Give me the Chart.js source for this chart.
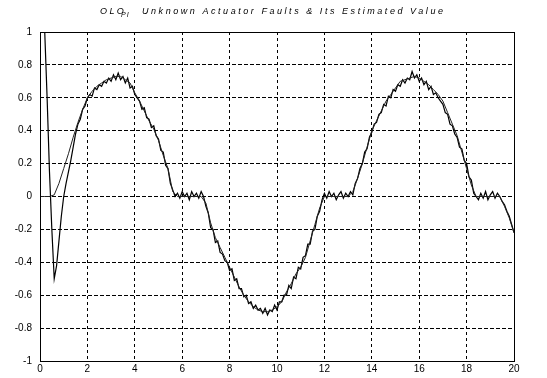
<!DOCTYPE html>
<html>
<head>
<meta charset="utf-8">
<script src="https://cdn.jsdelivr.net/npm/chart.js@4"></script>
<style>
  html, body { margin: 0; padding: 0; background: #fff; }
  #wrap { width: 547px; height: 378px; position: relative; }
</style>
</head>
<body>
<div id="wrap"><canvas id="faultChart"></canvas></div>
<script>
// actual fault, sampled every 0.2 s
const faultT = [
  0, 0.2, 0.4, 0.6, 0.8, 1, 1.2, 1.4, 1.6, 1.8,
  2, 2.2, 2.4, 2.6, 2.8, 3, 3.2, 3.4, 3.6, 3.8,
  4, 4.2, 4.4, 4.6, 4.8, 5, 5.2, 5.4, 5.6, 5.8,
  6, 6.2, 6.4, 6.6, 6.8, 7, 7.2, 7.4, 7.6, 7.8,
  8, 8.2, 8.4, 8.6, 8.8, 9, 9.2, 9.4, 9.6, 9.8,
  10, 10.2, 10.4, 10.6, 10.8, 11, 11.2, 11.4, 11.6, 11.8,
  12, 12.2, 12.4, 12.6, 12.8, 13, 13.2, 13.4, 13.6, 13.8,
  14, 14.2, 14.4, 14.6, 14.8, 15, 15.2, 15.4, 15.6, 15.8,
  16, 16.2, 16.4, 16.6, 16.8, 17, 17.2, 17.4, 17.6, 17.8,
  18, 18.2, 18.4, 18.6, 18.8, 19, 19.2, 19.4, 19.6, 19.8,
  20
];
const fault = [
  0, 0, 0, 0.01, 0.08, 0.17, 0.26, 0.36, 0.45, 0.53,
  0.6, 0.64, 0.67, 0.69, 0.71, 0.72, 0.73, 0.73, 0.71, 0.69,
  0.63, 0.58, 0.52, 0.46, 0.41, 0.34, 0.25, 0.17, 0.03, 0,
  0, 0, 0, 0, 0, -0.04, -0.16, -0.25, -0.31, -0.37,
  -0.43, -0.49, -0.55, -0.6, -0.64, -0.67, -0.69, -0.7, -0.7, -0.69,
  -0.67, -0.64, -0.58, -0.53, -0.47, -0.43, -0.37, -0.27, -0.17, -0.07,
  0, 0, 0, 0, 0, 0, 0.03, 0.11, 0.2, 0.3,
  0.4, 0.46, 0.52, 0.58, 0.62, 0.66, 0.7, 0.71, 0.72, 0.73,
  0.72, 0.7, 0.68, 0.65, 0.62, 0.58, 0.51, 0.44, 0.37, 0.27,
  0.17, 0.07, 0, 0, 0, 0, 0, 0, -0.06, -0.13,
  -0.22
];

// estimated fault, sampled every 0.1 s
const estT = [
  0, 0.1, 0.2, 0.3, 0.4, 0.5, 0.6, 0.7, 0.8, 0.9,
  1, 1.1, 1.2, 1.3, 1.4, 1.5, 1.6, 1.7, 1.8, 1.9,
  2, 2.1, 2.2, 2.3, 2.4, 2.5, 2.6, 2.7, 2.8, 2.9,
  3, 3.1, 3.2, 3.3, 3.4, 3.5, 3.6, 3.7, 3.8, 3.9,
  4, 4.1, 4.2, 4.3, 4.4, 4.5, 4.6, 4.7, 4.8, 4.9,
  5, 5.1, 5.2, 5.3, 5.4, 5.5, 5.6, 5.7, 5.8, 5.9,
  6, 6.1, 6.2, 6.3, 6.4, 6.5, 6.6, 6.7, 6.8, 6.9,
  7, 7.1, 7.2, 7.3, 7.4, 7.5, 7.6, 7.7, 7.8, 7.9,
  8, 8.1, 8.2, 8.3, 8.4, 8.5, 8.6, 8.7, 8.8, 8.9,
  9, 9.1, 9.2, 9.3, 9.4, 9.5, 9.6, 9.7, 9.8, 9.9,
  10, 10.1, 10.2, 10.3, 10.4, 10.5, 10.6, 10.7, 10.8, 10.9,
  11, 11.1, 11.2, 11.3, 11.4, 11.5, 11.6, 11.7, 11.8, 11.9,
  12, 12.1, 12.2, 12.3, 12.4, 12.5, 12.6, 12.7, 12.8, 12.9,
  13, 13.1, 13.2, 13.3, 13.4, 13.5, 13.6, 13.7, 13.8, 13.9,
  14, 14.1, 14.2, 14.3, 14.4, 14.5, 14.6, 14.7, 14.8, 14.9,
  15, 15.1, 15.2, 15.3, 15.4, 15.5, 15.6, 15.7, 15.8, 15.9,
  16, 16.1, 16.2, 16.3, 16.4, 16.5, 16.6, 16.7, 16.8, 16.9,
  17, 17.1, 17.2, 17.3, 17.4, 17.5, 17.6, 17.7, 17.8, 17.9,
  18, 18.1, 18.2, 18.3, 18.4, 18.5, 18.6, 18.7, 18.8, 18.9,
  19, 19.1, 19.2, 19.3, 19.4, 19.5, 19.6, 19.7, 19.8, 19.9,
  20
];
const estimate = [
  1, 1, 1, 0.6, 0.15, -0.2, -0.5, -0.42, -0.27, -0.12,
  0, 0.08, 0.15, 0.22, 0.3, 0.38, 0.44, 0.47, 0.53, 0.55,
  0.6, 0.62, 0.61, 0.66, 0.65, 0.68, 0.67, 0.7, 0.69, 0.72,
  0.7, 0.74, 0.71, 0.75, 0.71, 0.73, 0.69, 0.72, 0.66, 0.67,
  0.62, 0.6, 0.58, 0.53, 0.54, 0.48, 0.47, 0.42, 0.43, 0.37,
  0.35, 0.28, 0.27, 0.19, 0.17, 0.08, 0.04, 0, 0.02, -0.01,
  0.03, 0, 0.02, -0.02, 0.03, 0, 0.02, -0.01, 0.03, 0,
  -0.06, -0.1, -0.19, -0.2, -0.28, -0.27, -0.34, -0.35, -0.39, -0.4,
  -0.45, -0.44, -0.51, -0.5, -0.56, -0.56, -0.61, -0.6, -0.65, -0.64,
  -0.68, -0.66, -0.69, -0.68, -0.71, -0.68, -0.72, -0.69, -0.7, -0.66,
  -0.69, -0.64, -0.64, -0.6, -0.6, -0.54, -0.56, -0.49, -0.5, -0.43,
  -0.44, -0.37, -0.36, -0.29, -0.29, -0.21, -0.2, -0.12, -0.09, -0.02,
  0.02, -0.01, 0.03, 0, 0.02, -0.02, 0.01, 0.03, -0.01, 0.02,
  0, 0.03, 0.01, 0.08, 0.11, 0.17, 0.2, 0.27, 0.29, 0.36,
  0.39, 0.44, 0.45, 0.5, 0.51, 0.56, 0.55, 0.61, 0.6, 0.65,
  0.64, 0.68, 0.67, 0.71, 0.69, 0.72, 0.71, 0.76, 0.72, 0.74,
  0.7, 0.72, 0.68, 0.7, 0.65, 0.67, 0.62, 0.63, 0.6, 0.58,
  0.56, 0.51, 0.5, 0.44, 0.43, 0.38, 0.36, 0.3, 0.29, 0.22,
  0.2, 0.12, 0.1, 0.02, 0, -0.02, 0.02, -0.01, 0.03, -0.02,
  0.01, 0.03, -0.01, 0.02, 0, -0.03, -0.05, -0.09, -0.12, -0.17,
  -0.22
];

const xTicks = [0, 2, 4, 6, 8, 10, 12, 14, 16, 18, 20];
const yTicks = [-1, -0.8, -0.6, -0.4, -0.2, 0, 0.2, 0.4, 0.6, 0.8, 1];

const toPoints = (xs, ys) => xs.map((x, i) => ({ x: x, y: ys[i] }));

// title with the PI subscript, plus the solid frame around the plot
const framePlugin = {
  id: 'frame',
  afterDraw(chart) {
    const { ctx, chartArea: a } = chart;
    ctx.save();
    ctx.strokeStyle = '#000';
    ctx.lineWidth = 1;
    ctx.setLineDash([]);
    ctx.strokeRect(Math.round(a.left) + 0.5, Math.round(a.top) + 0.5,
      Math.round(a.right - a.left), Math.round(a.bottom - a.top));

    ctx.fillStyle = '#000';
    ctx.textAlign = 'left';
    ctx.textBaseline = 'alphabetic';
    ctx.letterSpacing = '2.4px';
    ctx.font = 'italic 9px Arial, "Liberation Sans", sans-serif';
    ctx.fillText('OLO', 100, 14);
    ctx.font = 'italic 7px Arial, "Liberation Sans", sans-serif';
    ctx.letterSpacing = '1px';
    ctx.fillText('PI', 121, 17);
    ctx.font = 'italic 9px Arial, "Liberation Sans", sans-serif';
    ctx.letterSpacing = '2.55px';
    ctx.fillText('Unknown Actuator Faults & Its Estimated Value', 142, 14);
    ctx.restore();
  }
};

const gridFor = () => ({
  color: ctx => (ctx.index === 0 || ctx.index === 10) ? 'rgba(0,0,0,0)' : '#000',
  lineWidth: 1,
  drawTicks: false
});

new Chart(document.getElementById('faultChart'), {
  type: 'line',
  data: {
    datasets: [
      {
        label: 'Actuator fault',
        data: toPoints(faultT, fault),
        borderColor: '#222',
        borderWidth: 1,
        pointRadius: 0,
        tension: 0
      },
      {
        label: 'Estimated value',
        data: toPoints(estT, estimate),
        borderColor: '#000',
        borderWidth: 1.2,
        pointRadius: 0,
        tension: 0
      }
    ]
  },
  options: {
    responsive: true,
    maintainAspectRatio: false,
    animation: false,
    layout: { padding: { top: 32, right: 33, left: 0, bottom: 0 } },
    plugins: {
      legend: { display: false },
      title: { display: false },
      tooltip: { enabled: false }
    },
    scales: {
      x: {
        type: 'linear',
        min: 0,
        max: 20,
        afterBuildTicks: s => { s.ticks = xTicks.map(v => ({ value: v })); },
        afterFit: s => { s.height = 17; },
        grid: gridFor(),
        border: { display: false, dash: [3, 3] },
        ticks: {
          color: '#000',
          padding: 2,
          font: { family: 'Arial, "Liberation Sans", sans-serif', size: 10 },
          maxRotation: 0
        }
      },
      y: {
        min: -1,
        max: 1,
        afterBuildTicks: s => { s.ticks = yTicks.map(v => ({ value: v })); },
        afterFit: s => { s.width = 40; },
        grid: gridFor(),
        border: { display: false, dash: [4, 2] },
        ticks: {
          color: '#000',
          padding: 8,
          font: { family: 'Arial, "Liberation Sans", sans-serif', size: 10 },
          callback: v => {
            const r = Math.round(v * 10) / 10;
            return (r === 0 || r === 1 || r === -1) ? String(r) : r.toFixed(1);
          }
        }
      }
    }
  },
  plugins: [framePlugin]
});
</script>
</body>
</html>
